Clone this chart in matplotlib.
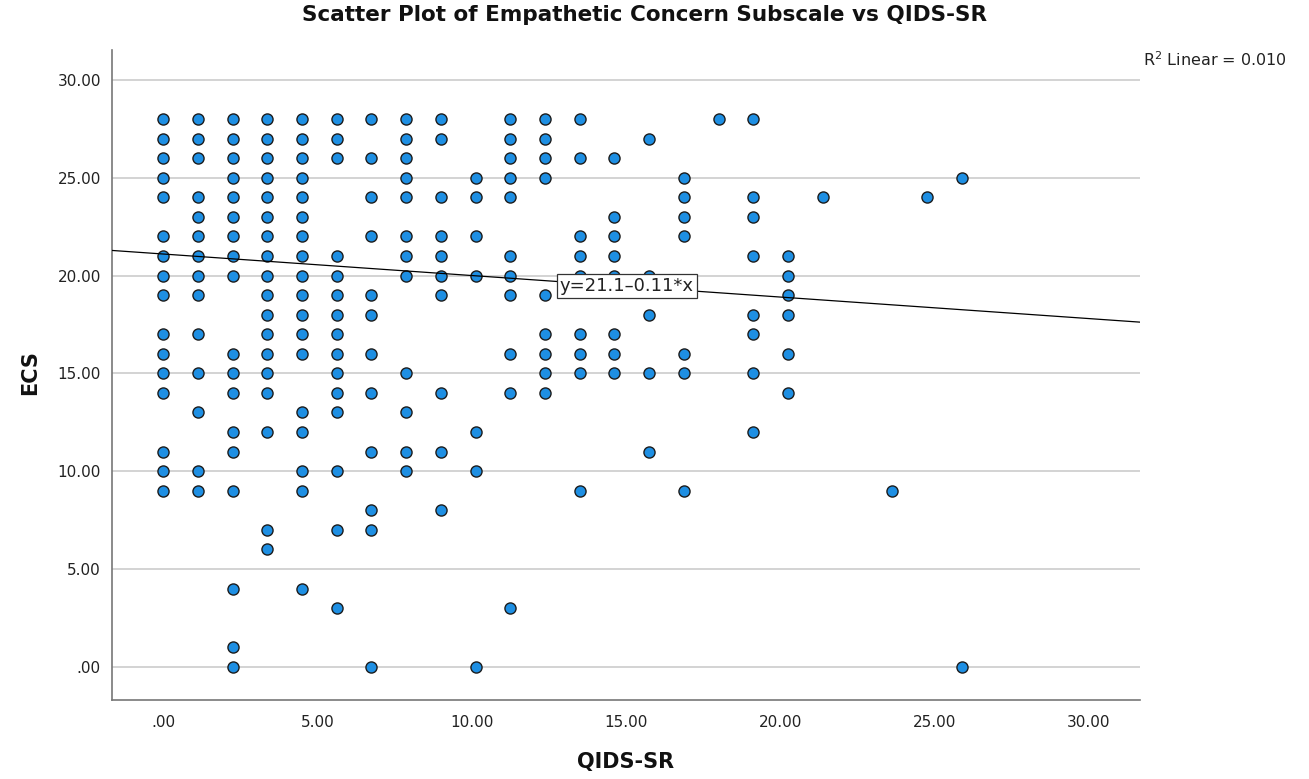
import matplotlib
matplotlib.use("Agg")
import matplotlib.pyplot as plt
import numpy as np

plt.rcParams['font.family'] = ['DejaVu Sans']

# QIDS-SR values (x) observed as distinct levels
qids_levels = [0.0, 1.125, 2.25, 3.375, 4.5, 5.625, 6.75, 7.875, 9.0, 10.125,
               11.25, 12.375, 13.5, 14.625, 15.75, 16.875, 18.0, 19.125,
               20.25, 21.375, 23.625, 24.75, 25.875]

# ECS values observed at each QIDS-SR level (same order as qids_levels)
ecs_by_level = [
    [28, 27, 26, 25, 24, 22, 21, 20, 19, 17, 16, 15, 14, 11, 10, 9],
    [28, 27, 26, 24, 23, 22, 21, 20, 19, 17, 15, 13, 10, 9],
    [28, 27, 26, 25, 24, 23, 22, 21, 20, 16, 15, 14, 12, 11, 9, 4, 1, 0],
    [28, 27, 26, 25, 24, 23, 22, 21, 20, 19, 18, 17, 16, 15, 14, 12, 7, 6],
    [28, 27, 26, 25, 24, 23, 22, 21, 20, 19, 18, 17, 16, 13, 12, 10, 9, 4],
    [28, 27, 26, 21, 20, 19, 18, 17, 16, 15, 14, 13, 10, 7, 3],
    [28, 26, 24, 22, 19, 18, 16, 14, 11, 8, 7, 0],
    [28, 27, 26, 25, 24, 22, 21, 20, 15, 13, 11, 10],
    [28, 27, 24, 22, 21, 20, 19, 14, 11, 8],
    [25, 24, 22, 20, 12, 10, 0],
    [28, 27, 26, 25, 24, 21, 20, 19, 16, 14, 3],
    [28, 27, 26, 25, 19, 17, 16, 15, 14],
    [28, 26, 22, 21, 20, 17, 16, 15, 9],
    [26, 23, 22, 21, 20, 17, 16, 15],
    [27, 20, 18, 15, 11],
    [25, 24, 23, 22, 16, 15, 9],
    [28],
    [28, 24, 23, 21, 18, 17, 15, 12],
    [21, 20, 19, 18, 16, 14],
    [24],
    [9],
    [24],
    [25, 0],
]

fit_intercept = 21.1
fit_slope = -0.11
r_squared = 0.010

x_ticks = [0, 5, 10, 15, 20, 25, 30]
y_ticks = [0, 5, 10, 15, 20, 25, 30]
x_tick_labels = ['.00', '5.00', '10.00', '15.00', '20.00', '25.00', '30.00']
y_tick_labels = ['.00', '5.00', '10.00', '15.00', '20.00', '25.00', '30.00']

qids = np.concatenate([[lv] * len(vals) for lv, vals in zip(qids_levels, ecs_by_level)])
ecs = np.concatenate([np.array(v, dtype=float) for v in ecs_by_level])

W, H = 1309, 779
fig = plt.figure(figsize=(W / 100, H / 100), dpi=100)
ax = fig.add_axes([112 / W, 1 - 700 / H, (1140 - 112) / W, (700 - 50) / H])

xlim = (-1.66, 31.66)
ylim = (-1.70, 31.53)
ax.set_xlim(*xlim)
ax.set_ylim(*ylim)

for yt in y_ticks:
    ax.axhline(yt, color='#d0d0d0', lw=1.3, zorder=0)

ax.scatter(qids, ecs, s=64, facecolor='#1e8fe3', edgecolor='#1c1c1c',
           linewidths=1.0, zorder=3)

xx = np.array(xlim)
ax.plot(xx, fit_intercept + fit_slope * xx, color='black', lw=0.9, zorder=4)

ax.text(15.03, 19.46, f'y={fit_intercept}{fit_slope}*x'.replace('-', '\u2013'),
        ha='center', va='center', fontsize=13, color='#222222', zorder=5,
        bbox=dict(boxstyle='square,pad=0.16', facecolor='white',
                  edgecolor='#333333', linewidth=0.9))

ax.set_xticks(x_ticks)
ax.set_xticklabels(x_tick_labels)
ax.set_yticks(y_ticks)
ax.set_yticklabels(y_tick_labels)
ax.tick_params(axis='both', length=0, labelsize=11, colors='#222222')
ax.tick_params(axis='x', pad=11)
ax.tick_params(axis='y', pad=8)

for side in ['top', 'right']:
    ax.spines[side].set_visible(False)
for side in ['left', 'bottom']:
    ax.spines[side].set_color('#777777')
    ax.spines[side].set_linewidth(1.2)

fig.text(644 / W, 1 - 15 / H, 'Scatter Plot of Empathetic Concern Subscale vs QIDS-SR',
         ha='center', va='center', fontsize=15.5, fontweight='bold', color='#111111')
fig.text(30 / W, 1 - 373 / H, 'ECS', rotation=90, ha='center', va='center',
         fontsize=15, fontweight='bold', color='#111111')
fig.text(626 / W, 1 - 762 / H, 'QIDS-SR', ha='center', va='center',
         fontsize=15, fontweight='bold', color='#111111')
fig.text(1143 / W, 1 - 60 / H, f'R$^2$ Linear = {r_squared:.3f}', ha='left', va='center',
         fontsize=11.5, color='#222222')

fig.savefig('out.png', dpi=100)
